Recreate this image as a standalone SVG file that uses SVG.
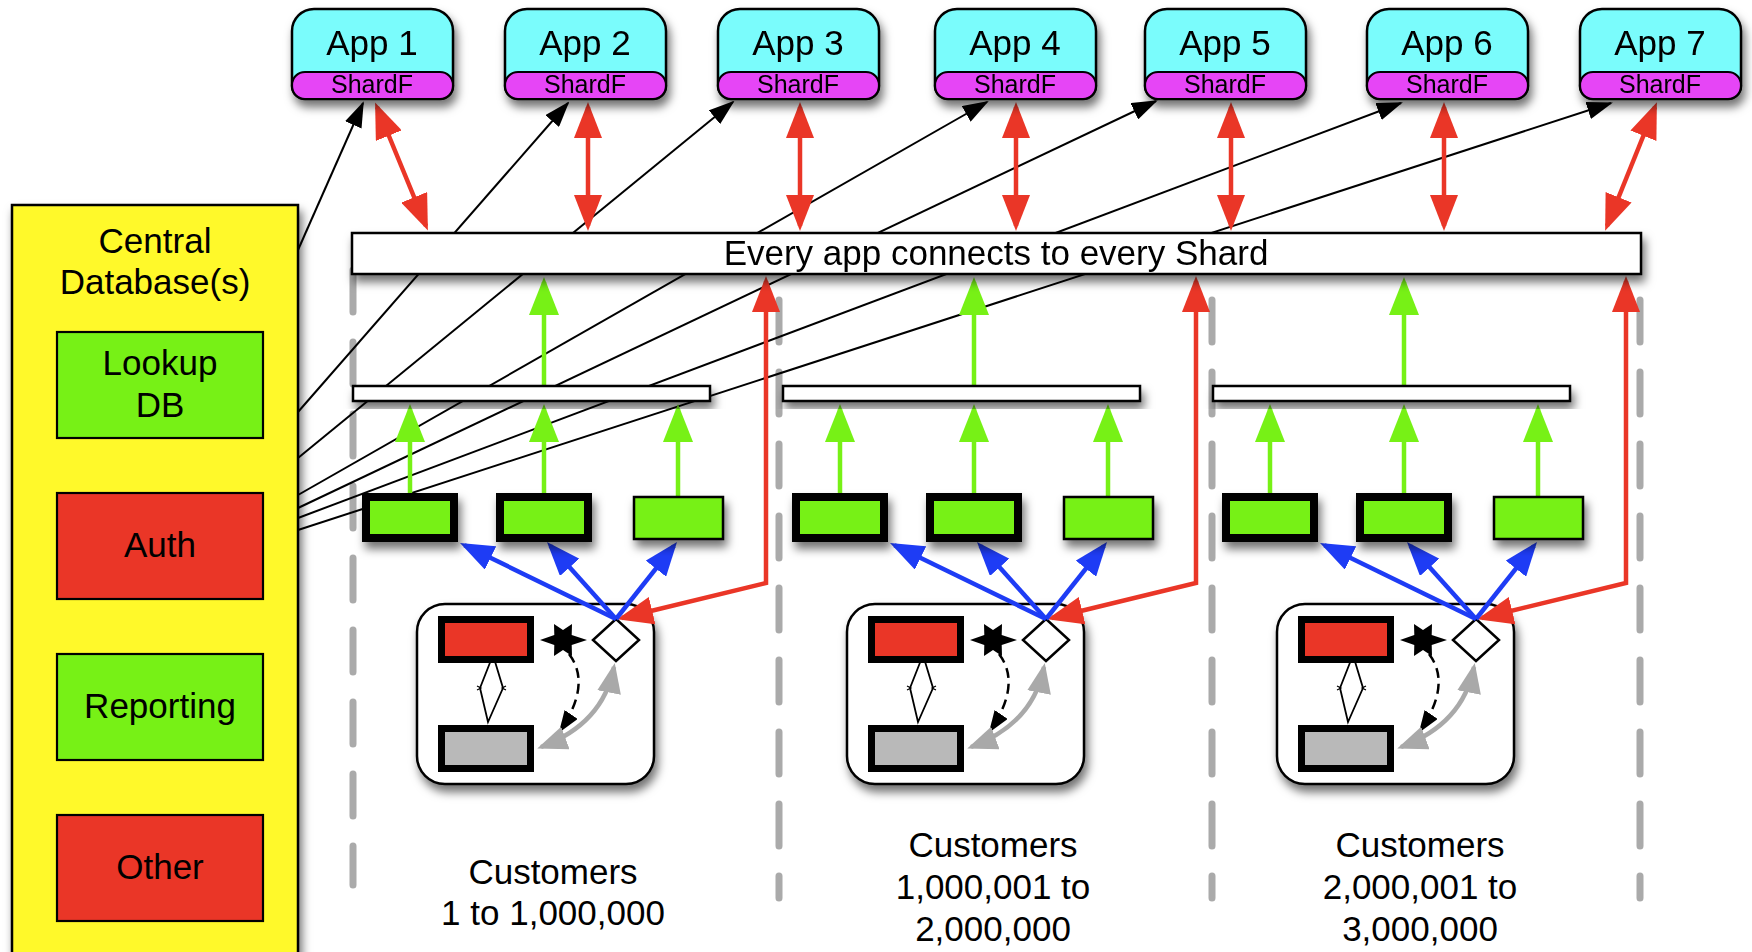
<svg xmlns="http://www.w3.org/2000/svg" width="1752" height="952" viewBox="0 0 1752 952">
  <defs>
    <style>
      text { font-family: "Liberation Sans", Arial, Helvetica, sans-serif; fill: #000; text-anchor: middle; }
      .lbl { font-size: 35px; }
      .shard { font-size: 25px; }
      .line { stroke: #000; stroke-width: 2.5; }
      .appbody { fill: #7afcfc; stroke: #000; stroke-width: 2.5; }
      .appband { fill: #e644f6; stroke: #000; stroke-width: 2.2; }
      .bar { fill: #fff; stroke: #000; stroke-width: 2.5; }
      .gbox { fill: #77f116; stroke: #000; stroke-width: 8; }
      .gbox-thin { fill: #77f116; stroke: #000; stroke-width: 2.5; }
      .dbbox-g { fill: #77f116; stroke: #000; stroke-width: 2.2; }
      .dbbox-r { fill: #ea3627; stroke: #000; stroke-width: 2.2; }
      .lane { stroke: #aaaaaa; stroke-width: 7; stroke-linecap: round; stroke-dasharray: 42 30; fill: none; }
      .feed { stroke: #000; stroke-width: 2; fill: none; }
      .red { stroke: #ea3627; stroke-width: 4.5; fill: none; }
      .green { stroke: #77f116; stroke-width: 4.5; fill: none; }
      .blue { stroke: #1e3cf5; stroke-width: 4.5; fill: none; }
      .grayarc { stroke: #a9a9a9; stroke-width: 4.5; fill: none; }
      .dash { stroke: #000; stroke-width: 2.5; stroke-dasharray: 10 6; fill: none; }
    </style>
    <filter id="shadow" x="-20%" y="-20%" width="150%" height="170%">
      <feDropShadow dx="3" dy="7" stdDeviation="5" flood-color="#000" flood-opacity="0.55"/>
    </filter>
    <marker id="mRed" markerUnits="userSpaceOnUse" viewBox="0 0 36 28" markerWidth="36" markerHeight="28" refX="31" refY="14" orient="auto-start-reverse">
      <path d="M0,0 L36,14 L0,28 Z" fill="#ea3627"/>
    </marker>
    <marker id="mGreen" markerUnits="userSpaceOnUse" viewBox="0 0 38 30" markerWidth="38" markerHeight="30" refX="33" refY="15" orient="auto">
      <path d="M0,0 L38,15 L0,30 Z" fill="#77f116"/>
    </marker>
    <marker id="mBlue" markerUnits="userSpaceOnUse" viewBox="0 0 34 26" markerWidth="34" markerHeight="26" refX="29" refY="13" orient="auto">
      <path d="M0,0 L34,13 L0,26 Z" fill="#1e3cf5"/>
    </marker>
    <marker id="mBlack" markerUnits="userSpaceOnUse" viewBox="0 0 26 18" markerWidth="26" markerHeight="18" refX="24" refY="9" orient="auto">
      <path d="M0,0 L26,9 L0,18 Z" fill="#000"/>
    </marker>
    <marker id="mBlackSm" markerUnits="userSpaceOnUse" viewBox="0 0 22 16" markerWidth="22" markerHeight="16" refX="20" refY="8" orient="auto">
      <path d="M0,0 L22,8 L0,16 Z" fill="#000"/>
    </marker>
    <marker id="mGray" markerUnits="userSpaceOnUse" viewBox="0 0 30 24" markerWidth="30" markerHeight="24" refX="26" refY="12" orient="auto-start-reverse">
      <path d="M0,0 L30,12 L0,24 Z" fill="#a9a9a9"/>
    </marker>
  </defs>

  <rect width="1752" height="952" fill="#fff"/>

  <!-- lane separators -->
  <g id="lanes">
    <line class="lane" x1="353" y1="270" x2="353" y2="885"/>
    <line class="lane" x1="779" y1="300" x2="779" y2="898"/>
    <line class="lane" x1="1212" y1="300" x2="1212" y2="898"/>
    <line class="lane" x1="1640" y1="300" x2="1640" y2="898"/>
  </g>

  <!-- shard clusters (bottom boxes) -->
  <g id="cluster1" filter="url(#shadow)">
    <rect x="417" y="604" width="237" height="180" rx="28" fill="#fff" stroke="#000" stroke-width="2.5"/>
  </g>
  <g id="cluster2" transform="translate(430,0)" filter="url(#shadow)">
    <rect x="417" y="604" width="237" height="180" rx="28" fill="#fff" stroke="#000" stroke-width="2.5"/>
  </g>
  <g id="cluster3" transform="translate(860,0)" filter="url(#shadow)">
    <rect x="417" y="604" width="237" height="180" rx="28" fill="#fff" stroke="#000" stroke-width="2.5"/>
  </g>

  <!-- cluster internals -->
  <g id="cluster-detail-1">
    <path d="M493,655 L480,688 L488,722 L503,688 Z" fill="#fff" stroke="#000" stroke-width="1.8"/>
    <path d="M477,686 L481,688 L477,690 M506,686 L502,688 L506,690" fill="none" stroke="#000" stroke-width="1.2"/>
    <rect x="441.5" y="619.5" width="89" height="40" fill="#ea3627" stroke="#000" stroke-width="7"/>
    <rect x="441.5" y="728.5" width="89" height="40" fill="#b9b9b9" stroke="#000" stroke-width="7"/>
    <polygon points="587,640 571.7,635 572,624 563,630 554,624 554.3,635 540,640 554.3,645 554,656 563,650 572,656 571.7,645" fill="#000"/>
    <polygon points="616,619 639,640 616,661 593,640" fill="#fff" stroke="#000" stroke-width="2.5"/>
    <path class="dash" d="M569,654 Q592,684 560,731" marker-end="url(#mBlackSm)"/>
    <path class="grayarc" d="M541,747 Q603,724 614,667" marker-start="url(#mGray)" marker-end="url(#mGray)"/>
  </g>
  <g id="cluster-detail-2" transform="translate(430,0)">
    <path d="M493,655 L480,688 L488,722 L503,688 Z" fill="#fff" stroke="#000" stroke-width="1.8"/>
    <path d="M477,686 L481,688 L477,690 M506,686 L502,688 L506,690" fill="none" stroke="#000" stroke-width="1.2"/>
    <rect x="441.5" y="619.5" width="89" height="40" fill="#ea3627" stroke="#000" stroke-width="7"/>
    <rect x="441.5" y="728.5" width="89" height="40" fill="#b9b9b9" stroke="#000" stroke-width="7"/>
    <polygon points="587,640 571.7,635 572,624 563,630 554,624 554.3,635 540,640 554.3,645 554,656 563,650 572,656 571.7,645" fill="#000"/>
    <polygon points="616,619 639,640 616,661 593,640" fill="#fff" stroke="#000" stroke-width="2.5"/>
    <path class="dash" d="M569,654 Q592,684 560,731" marker-end="url(#mBlackSm)"/>
    <path class="grayarc" d="M541,747 Q603,724 614,667" marker-start="url(#mGray)" marker-end="url(#mGray)"/>
  </g>
  <g id="cluster-detail-3" transform="translate(860,0)">
    <path d="M493,655 L480,688 L488,722 L503,688 Z" fill="#fff" stroke="#000" stroke-width="1.8"/>
    <path d="M477,686 L481,688 L477,690 M506,686 L502,688 L506,690" fill="none" stroke="#000" stroke-width="1.2"/>
    <rect x="441.5" y="619.5" width="89" height="40" fill="#ea3627" stroke="#000" stroke-width="7"/>
    <rect x="441.5" y="728.5" width="89" height="40" fill="#b9b9b9" stroke="#000" stroke-width="7"/>
    <polygon points="587,640 571.7,635 572,624 563,630 554,624 554.3,635 540,640 554.3,645 554,656 563,650 572,656 571.7,645" fill="#000"/>
    <polygon points="616,619 639,640 616,661 593,640" fill="#fff" stroke="#000" stroke-width="2.5"/>
    <path class="dash" d="M569,654 Q592,684 560,731" marker-end="url(#mBlackSm)"/>
    <path class="grayarc" d="M541,747 Q603,724 614,667" marker-start="url(#mGray)" marker-end="url(#mGray)"/>
  </g>

  <!-- connectors -->
  <g id="connectors">
    <!-- central databases to every app -->
    <g id="db-feeds">
      <path class="feed" d="M298,250 L363,103" marker-end="url(#mBlack)"/>
      <path class="feed" d="M298,412 L568,103" marker-end="url(#mBlack)"/>
      <path class="feed" d="M298,458 L733,102" marker-end="url(#mBlack)"/>
      <path class="feed" d="M298,495 L987,102" marker-end="url(#mBlack)"/>
      <path class="feed" d="M298,508 L1156,101" marker-end="url(#mBlack)"/>
      <path class="feed" d="M298,518 L1401,103" marker-end="url(#mBlack)"/>
      <path class="feed" d="M298,530 L1611,103" marker-end="url(#mBlack)"/>
    </g>
    <!-- apps to the shared connection layer -->
    <g id="app-links">
      <path class="red" d="M377,107 L426,226" marker-start="url(#mRed)" marker-end="url(#mRed)"/>
      <path class="red" d="M588,107 V226" marker-start="url(#mRed)" marker-end="url(#mRed)"/>
      <path class="red" d="M800,107 V226" marker-start="url(#mRed)" marker-end="url(#mRed)"/>
      <path class="red" d="M1016,107 V226" marker-start="url(#mRed)" marker-end="url(#mRed)"/>
      <path class="red" d="M1231,107 V226" marker-start="url(#mRed)" marker-end="url(#mRed)"/>
      <path class="red" d="M1444,107 V226" marker-start="url(#mRed)" marker-end="url(#mRed)"/>
      <path class="red" d="M1655,107 L1607,226" marker-start="url(#mRed)" marker-end="url(#mRed)"/>
    </g>
    <!-- shard masters to the connection layer -->
    <g id="master-links">
      <path class="red" d="M766,281 V583 L622,618" marker-start="url(#mRed)" marker-end="url(#mRed)"/>
      <path class="red" d="M1196,281 V583 L1052,618" marker-start="url(#mRed)" marker-end="url(#mRed)"/>
      <path class="red" d="M1626,281 V583 L1482,618" marker-start="url(#mRed)" marker-end="url(#mRed)"/>
    </g>
    <!-- replica fan-out -->
    <g id="replica-links">
      <path class="blue" d="M616,619 L464.5,545.2" marker-end="url(#mBlue)"/>
      <path class="blue" d="M616,619 L550.3,545.7" marker-end="url(#mBlue)"/>
      <path class="blue" d="M616,619 L673.9,545.9" marker-end="url(#mBlue)"/>
      <path class="blue" d="M1046,619 L894.5,545.2" marker-end="url(#mBlue)"/>
      <path class="blue" d="M1046,619 L980.3,545.7" marker-end="url(#mBlue)"/>
      <path class="blue" d="M1046,619 L1103.9,545.9" marker-end="url(#mBlue)"/>
      <path class="blue" d="M1476,619 L1324.5,545.2" marker-end="url(#mBlue)"/>
      <path class="blue" d="M1476,619 L1410.3,545.7" marker-end="url(#mBlue)"/>
      <path class="blue" d="M1476,619 L1533.9,545.9" marker-end="url(#mBlue)"/>
    </g>
    <!-- replicas to pool bars, pool bars to connection layer -->
    <g id="pool-links">
      <path class="green" d="M410,493 V409" marker-end="url(#mGreen)"/>
      <path class="green" d="M544,493 V409" marker-end="url(#mGreen)"/>
      <path class="green" d="M678,496 V409" marker-end="url(#mGreen)"/>
      <path class="green" d="M544,385 V282" marker-end="url(#mGreen)"/>
      <path class="green" d="M840,493 V409" marker-end="url(#mGreen)"/>
      <path class="green" d="M974,493 V409" marker-end="url(#mGreen)"/>
      <path class="green" d="M1108,496 V409" marker-end="url(#mGreen)"/>
      <path class="green" d="M974,385 V282" marker-end="url(#mGreen)"/>
      <path class="green" d="M1270,493 V409" marker-end="url(#mGreen)"/>
      <path class="green" d="M1404,493 V409" marker-end="url(#mGreen)"/>
      <path class="green" d="M1538,496 V409" marker-end="url(#mGreen)"/>
      <path class="green" d="M1404,385 V282" marker-end="url(#mGreen)"/>
    </g>
  </g>

  <!-- connection layer -->
  <g id="connect-all" filter="url(#shadow)">
    <rect class="bar" x="352" y="233" width="1289" height="41"/>
    <text class="lbl" x="996" y="265">Every app connects to every Shard</text>
  </g>

  <!-- replica pools -->
  <g id="pool1">
    <rect class="bar" x="353" y="386" width="357" height="15" filter="url(#shadow)"/>
    <g filter="url(#shadow)">
      <rect class="gbox" x="366" y="497" width="88" height="41"/>
      <rect class="gbox" x="500" y="497" width="88" height="41"/>
      <rect class="gbox-thin" x="634" y="497" width="89" height="42"/>
    </g>
  </g>
  <g id="pool2" transform="translate(430,0)">
    <rect class="bar" x="353" y="386" width="357" height="15" filter="url(#shadow)"/>
    <g filter="url(#shadow)">
      <rect class="gbox" x="366" y="497" width="88" height="41"/>
      <rect class="gbox" x="500" y="497" width="88" height="41"/>
      <rect class="gbox-thin" x="634" y="497" width="89" height="42"/>
    </g>
  </g>
  <g id="pool3" transform="translate(860,0)">
    <rect class="bar" x="353" y="386" width="357" height="15" filter="url(#shadow)"/>
    <g filter="url(#shadow)">
      <rect class="gbox" x="366" y="497" width="88" height="41"/>
      <rect class="gbox" x="500" y="497" width="88" height="41"/>
      <rect class="gbox-thin" x="634" y="497" width="89" height="42"/>
    </g>
  </g>

  <!-- customer ranges -->
  <g id="range1">
    <text class="lbl" x="553" y="884">Customers</text>
    <text class="lbl" x="553" y="925">1 to 1,000,000</text>
  </g>
  <g id="range2">
    <text class="lbl" x="993" y="857">Customers</text>
    <text class="lbl" x="993" y="899">1,000,001 to</text>
    <text class="lbl" x="993" y="941">2,000,000</text>
  </g>
  <g id="range3">
    <text class="lbl" x="1420" y="857">Customers</text>
    <text class="lbl" x="1420" y="899">2,000,001 to</text>
    <text class="lbl" x="1420" y="941">3,000,000</text>
  </g>

  <!-- application servers -->
  <g id="app1" transform="translate(292,0)" filter="url(#shadow)">
    <path class="appbody" d="M22,9 H139 A22,22 0 0 1 161,31 V86 A13,13 0 0 1 148,99 H13 A13,13 0 0 1 0,86 V31 A22,22 0 0 1 22,9 Z"/>
    <rect class="appband" x="0" y="72" width="161" height="27" rx="13"/>
    <text class="lbl" x="80" y="55">App 1</text>
    <text class="shard" x="80" y="93">ShardF</text>
  </g>
  <g id="app2" transform="translate(505,0)" filter="url(#shadow)">
    <path class="appbody" d="M22,9 H139 A22,22 0 0 1 161,31 V86 A13,13 0 0 1 148,99 H13 A13,13 0 0 1 0,86 V31 A22,22 0 0 1 22,9 Z"/>
    <rect class="appband" x="0" y="72" width="161" height="27" rx="13"/>
    <text class="lbl" x="80" y="55">App 2</text>
    <text class="shard" x="80" y="93">ShardF</text>
  </g>
  <g id="app3" transform="translate(718,0)" filter="url(#shadow)">
    <path class="appbody" d="M22,9 H139 A22,22 0 0 1 161,31 V86 A13,13 0 0 1 148,99 H13 A13,13 0 0 1 0,86 V31 A22,22 0 0 1 22,9 Z"/>
    <rect class="appband" x="0" y="72" width="161" height="27" rx="13"/>
    <text class="lbl" x="80" y="55">App 3</text>
    <text class="shard" x="80" y="93">ShardF</text>
  </g>
  <g id="app4" transform="translate(935,0)" filter="url(#shadow)">
    <path class="appbody" d="M22,9 H139 A22,22 0 0 1 161,31 V86 A13,13 0 0 1 148,99 H13 A13,13 0 0 1 0,86 V31 A22,22 0 0 1 22,9 Z"/>
    <rect class="appband" x="0" y="72" width="161" height="27" rx="13"/>
    <text class="lbl" x="80" y="55">App 4</text>
    <text class="shard" x="80" y="93">ShardF</text>
  </g>
  <g id="app5" transform="translate(1145,0)" filter="url(#shadow)">
    <path class="appbody" d="M22,9 H139 A22,22 0 0 1 161,31 V86 A13,13 0 0 1 148,99 H13 A13,13 0 0 1 0,86 V31 A22,22 0 0 1 22,9 Z"/>
    <rect class="appband" x="0" y="72" width="161" height="27" rx="13"/>
    <text class="lbl" x="80" y="55">App 5</text>
    <text class="shard" x="80" y="93">ShardF</text>
  </g>
  <g id="app6" transform="translate(1367,0)" filter="url(#shadow)">
    <path class="appbody" d="M22,9 H139 A22,22 0 0 1 161,31 V86 A13,13 0 0 1 148,99 H13 A13,13 0 0 1 0,86 V31 A22,22 0 0 1 22,9 Z"/>
    <rect class="appband" x="0" y="72" width="161" height="27" rx="13"/>
    <text class="lbl" x="80" y="55">App 6</text>
    <text class="shard" x="80" y="93">ShardF</text>
  </g>
  <g id="app7" transform="translate(1580,0)" filter="url(#shadow)">
    <path class="appbody" d="M22,9 H139 A22,22 0 0 1 161,31 V86 A13,13 0 0 1 148,99 H13 A13,13 0 0 1 0,86 V31 A22,22 0 0 1 22,9 Z"/>
    <rect class="appband" x="0" y="72" width="161" height="27" rx="13"/>
    <text class="lbl" x="80" y="55">App 7</text>
    <text class="shard" x="80" y="93">ShardF</text>
  </g>

  <!-- central databases -->
  <g id="central-db">
    <rect x="12" y="205" width="286" height="770" fill="#fff92c" stroke="#000" stroke-width="2.5" filter="url(#shadow)"/>
    <text class="lbl" x="155" y="253">Central</text>
    <text class="lbl" x="155" y="294">Database(s)</text>
  </g>
  <g id="lookup-db">
    <rect class="dbbox-g" x="57" y="332" width="206" height="106"/>
    <text class="lbl" x="160" y="375">Lookup</text>
    <text class="lbl" x="160" y="417">DB</text>
  </g>
  <g id="auth-db">
    <rect class="dbbox-r" x="57" y="493" width="206" height="106"/>
    <text class="lbl" x="160" y="557">Auth</text>
  </g>
  <g id="reporting-db">
    <rect class="dbbox-g" x="57" y="654" width="206" height="106"/>
    <text class="lbl" x="160" y="718">Reporting</text>
  </g>
  <g id="other-db">
    <rect class="dbbox-r" x="57" y="815" width="206" height="106"/>
    <text class="lbl" x="160" y="879">Other</text>
  </g>
</svg>
